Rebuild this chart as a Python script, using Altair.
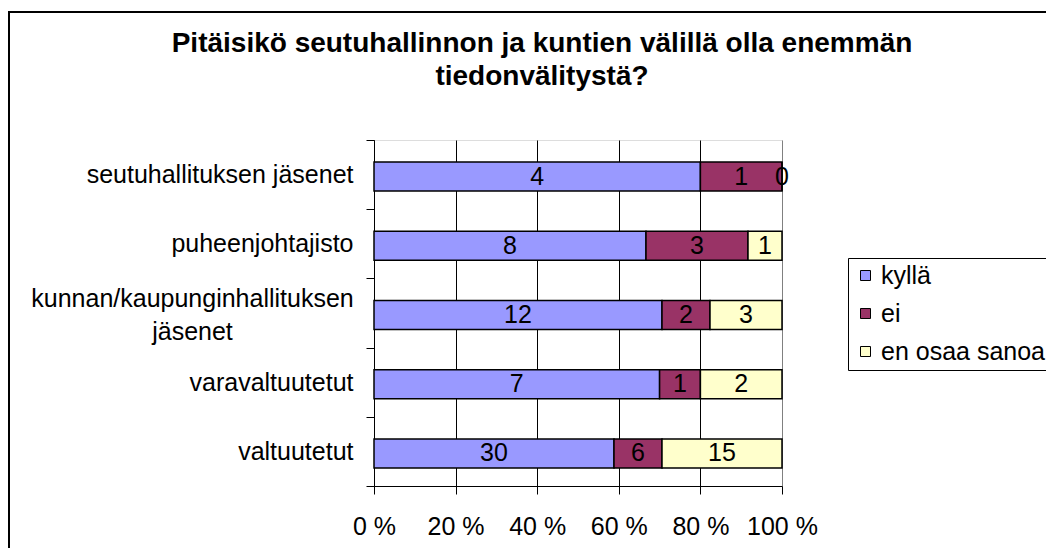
import altair as alt
import pandas as pd

categories = [
    "seutuhallituksen jäsenet",
    "puheenjohtajisto",
    "kunnan/kaupunginhallituksen jäsenet",
    "varavaltuutetut",
    "valtuutetut",
]
series = ["kyllä", "ei", "en osaa sanoa"]
kylla = [4, 8, 12, 7, 30]
ei = [1, 3, 2, 1, 6]
eos = [0, 1, 3, 2, 15]
colors = ["#9999FF", "#993366", "#FFFFCC"]
x_ticks = [0, 0.2, 0.4, 0.6, 0.8, 1.0]

rows = []
for i, c in enumerate(categories):
    for j, (s, vals) in enumerate(zip(series, [kylla, ei, eos])):
        rows.append({"cat": c, "series": s, "value": vals[i], "order": j})
df = pd.DataFrame(rows)

FONT = "Liberation Sans"
LONG = "kunnan/kaupunginhallituksen jäsenet"
test_long = "datum.value == '" + LONG + "'"
label_expr = (
    "datum.label == '" + LONG + "' ? "
    "['kunnan/kaupunginhallituksen', 'jäsenet'] : datum.label"
)

y_enc = alt.Y(
    "cat:N",
    sort=categories,
    title=None,
    scale=alt.Scale(paddingInner=0, paddingOuter=0),
    axis=alt.Axis(
        tickBand="extent",
        tickSize=8,
        tickColor="black",
        domainColor="black",
        labelFont=FONT,
        labelFontSize=25,
        labelColor="black",
        labelPadding={"condition": {"test": test_long, "value": 174}, "value": 13},
        labelAlign={"condition": {"test": test_long, "value": "center"}, "value": "right"},
        labelOffset={"condition": {"test": test_long, "value": -15}, "value": 0},
        labelLineHeight=33,
        labelExpr=label_expr,
        labelLimit=400,
    ),
)

x_scale = alt.Scale(domain=[0, 1], nice=False)
x_axis = alt.Axis(
    values=x_ticks,
    grid=True,
    gridColor={"condition": {"test": "datum.value >= 1", "value": "#808080"}, "value": "black"},
    gridOpacity=1,
    tickSize=8,
    tickColor="black",
    domainColor="black",
    labelFont=FONT,
    labelFontSize=25,
    labelColor="black",
    labelPadding=20,
    labelExpr="round(datum.value*100) + ' %'",
    labelFlush=False,
    labelOverlap=False,
)

base = alt.Chart(df)

bars = base.mark_bar(size=29, yOffset=2, stroke="black", strokeWidth=1.5).encode(
    y=y_enc,
    x=alt.X("value:Q", stack="normalize", scale=x_scale, axis=x_axis, title=None),
    color=alt.Color(
        "series:N",
        scale=alt.Scale(domain=series, range=colors),
        legend=alt.Legend(
            title=None,
            orient="none",
            legendX=474,
            legendY=118,
            strokeColor="black",
            fillColor="white",
            padding=5,
            symbolType="square",
            symbolSize=100,
            symbolStrokeColor="black",
            symbolStrokeWidth=1,
            labelFont=FONT,
            labelFontSize=25,
            labelColor="black",
            labelOffset=3,
            rowPadding=12,
            labelLimit=400,
        ),
    ),
    order=alt.Order("order:Q"),
)

texts = (
    base.transform_joinaggregate(total="sum(value)", groupby=["cat"])
    .transform_window(cum="sum(value)", sort=[{"field": "order"}], groupby=["cat"], frame=[None, 0])
    .transform_calculate(mid="(datum.cum - datum.value/2)/datum.total")
    .mark_text(font=FONT, fontSize=25, color="black", baseline="middle", dy=2)
    .encode(
        y=alt.Y("cat:N", sort=categories),
        x=alt.X("mid:Q", scale=x_scale),
        text="value:Q",
    )
)

frame_df = pd.DataFrame({"a": [0]})
border_left = alt.Chart(frame_df).mark_rule(color="black", strokeWidth=2).encode(
    x=alt.value(-365), y=alt.value(-128), y2=alt.value(420)
)
border_top = alt.Chart(frame_df).mark_rule(color="black", strokeWidth=2).encode(
    x=alt.value(-366), x2=alt.value(700), y=alt.value(-128)
)

chart = (
    alt.layer(bars, texts, border_left, border_top)
    .properties(
        width=408,
        height=346,
        autosize=alt.AutoSizeParams(type="none"),
        padding={"left": 366, "top": 132, "right": 264, "bottom": 62},
        title=alt.TitleParams(
            text=["Pitäisikö seutuhallinnon ja kuntien välillä olla enemmän", "tiedonvälitystä?"],
            font=FONT,
            fontSize=28,
            fontWeight="bold",
            color="black",
            anchor="middle",
            frame="group",
            dx=-36,
            offset=-80,
            lineHeight=33,
        ),
    )
    .configure_view(stroke=None, fill="#C0C0C0")
    .configure(background="white")
)

chart.save("out.html", embed_options={"renderer": "svg", "actions": False})
